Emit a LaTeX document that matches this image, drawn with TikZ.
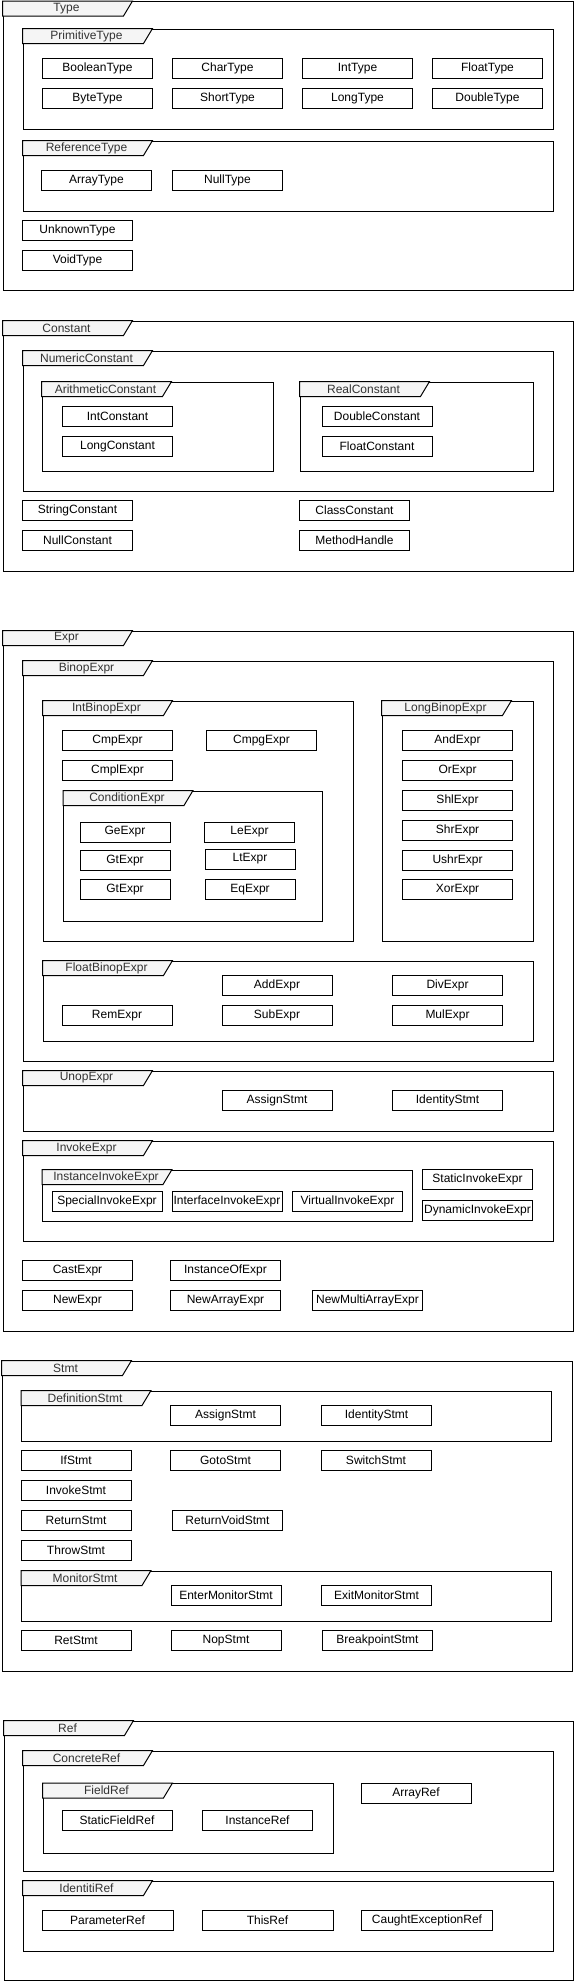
\documentclass[tikz,border=0pt]{standalone}
\usepackage{fontspec}
\setmainfont{Liberation Sans}
\usepackage{tikz}
\usetikzlibrary{positioning}
\definecolor{tabgray}{HTML}{F5F5F5}
\definecolor{tabink}{HTML}{333333}
% frame with a label tab: name, left, top, width, height, label
\newcommand{\umlframe}[6]{%
  \node[framebox,minimum width=#4pt,minimum height=#5pt,anchor=north west] (#1) at (#2,#3) {};
  \draw[tabshape] (#1.north west) -- ++(130pt,0) -- ++(-9pt,-15pt) -- ++(-121pt,0) -- cycle;
  \node[tabtext] (#1-tab) at ([shift={(64pt,-7.5pt)}]#1.north west) {#6};
}

\begin{document}
\begin{tikzpicture}[x=1pt,y=-1pt,font=\fontsize{12}{14}\selectfont,
    cls/.style={draw,line width=1pt,minimum width=110pt,minimum height=20pt,inner sep=0pt},
    framebox/.style={draw,line width=1pt,inner sep=0pt},
    tabshape/.style={draw,line width=1pt,fill=tabgray},
    tabtext/.style={text=tabink,inner sep=0pt}]
    \useasboundingbox (0,0) rectangle (574,1981);

    % Type
    \umlframe{type}{2.5}{1}{570}{289}{Type}
    \umlframe{prim}{22.5}{28.5}{530}{100}{PrimitiveType}
    \node[cls] (boolT) at (97.5,68.5) {BooleanType};
    \node[cls] (charT) at (227.5,68.5) {CharType};
    \node[cls] (intT) at (357.5,68.5) {IntType};
    \node[cls] (floatT) at (487.5,68.5) {FloatType};
    \node[cls] (byteT) at (97.5,98.5) {ByteType};
    \node[cls] (shortT) at (227.5,98.5) {ShortType};
    \node[cls] (longT) at (357.5,98.5) {LongType};
    \node[cls] (doubleT) at (487.5,98.5) {DoubleType};
    \umlframe{reft}{22.5}{140.5}{530}{70}{ReferenceType}
    \node[cls] (arrayT) at (96.5,180.5) {ArrayType};
    \node[cls] (nullT) at (227.5,180.5) {NullType};
    \node[cls] (unknownT) at (77.5,230.5) {UnknownType};
    \node[cls] (voidT) at (77.5,260.5) {VoidType};

    % Constant
    \umlframe{const}{2.5}{320.5}{570}{250}{Constant}
    \umlframe{numc}{22.5}{350.5}{530}{140}{NumericConstant}
    \umlframe{arithc}{41.5}{381.5}{231}{89}{ArithmeticConstant}
    \umlframe{realc}{299.5}{381.5}{233}{89}{RealConstant}
    \node[cls] (intC) at (117.5,416.5) {IntConstant};
    \node[cls] (longC) at (117.5,446.5) {LongConstant};
    \node[cls] (doubleC) at (377,416.5) {DoubleConstant};
    \node[cls] (floatC) at (377,446.5) {FloatConstant};
    \node[cls] (stringC) at (77.5,510.5) {StringConstant};
    \node[cls] (nullC) at (77.5,540.5) {NullConstant};
    \node[cls] (classC) at (354.5,510.5) {ClassConstant};
    \node[cls] (mhandle) at (354.5,540.5) {MethodHandle};

    % Expr
    \umlframe{expr}{2.5}{630.5}{570}{700}{Expr}
    \umlframe{binop}{22.5}{660.5}{530}{400}{BinopExpr}
    \umlframe{intbin}{42.5}{700.5}{310}{240}{IntBinopExpr}
    \node[cls] (cmpE) at (117.5,740.5) {CmpExpr};
    \node[cls] (cmpgE) at (261.5,740.5) {CmpgExpr};
    \node[cls] (cmplE) at (117.5,770.5) {CmplExpr};
    \umlframe{cond}{63}{790.5}{259}{130}{ConditionExpr}
    \node[cls,minimum width=90pt] (geE) at (125,832) {GeExpr};
    \node[cls,minimum width=90pt] (leE) at (249.5,832) {LeExpr};
    \node[cls,minimum width=90pt] (gtE) at (125,860.5) {GtExpr};
    \node[cls,minimum width=90pt] (ltE) at (250,859) {LtExpr};
    \node[cls,minimum width=90pt] (gtE2) at (125,889.5) {GtExpr};
    \node[cls,minimum width=90pt] (eqE) at (250,889.5) {EqExpr};
    \umlframe{longbin}{381.5}{700.5}{151.5}{240}{LongBinopExpr}
    \node[cls] (andE) at (457.5,740.5) {AndExpr};
    \node[cls] (orE) at (457.5,770.5) {OrExpr};
    \node[cls] (shlE) at (457.5,800.5) {ShlExpr};
    \node[cls] (shrE) at (457.5,830.5) {ShrExpr};
    \node[cls] (ushrE) at (457.5,860.5) {UshrExpr};
    \node[cls] (xorE) at (457.5,889.5) {XorExpr};
    \umlframe{floatbin}{42.5}{960.5}{490}{80}{FloatBinopExpr}
    \node[cls] (addE) at (277,985.5) {AddExpr};
    \node[cls] (divE) at (447.5,985.5) {DivExpr};
    \node[cls] (remE) at (117,1015.5) {RemExpr};
    \node[cls] (subE) at (277,1015.5) {SubExpr};
    \node[cls] (mulE) at (447.5,1015.5) {MulExpr};
    \umlframe{unop}{22.5}{1070.5}{530}{60}{UnopExpr}
    \node[cls] (unAssign) at (277,1100.5) {AssignStmt};
    \node[cls] (unIdent) at (447.5,1100.5) {IdentityStmt};
    \umlframe{invoke}{22.5}{1140.5}{530}{100}{InvokeExpr}
    \umlframe{instinv}{42}{1169.5}{370}{51}{InstanceInvokeExpr}
    \node[cls] (specialE) at (107,1201.5) {SpecialInvokeExpr};
    \node[cls] (ifaceE) at (227,1201.5) {InterfaceInvokeExpr};
    \node[cls] (virtE) at (347.5,1201.5) {VirtualInvokeExpr};
    \node[cls] (staticE) at (477.5,1179.5) {StaticInvokeExpr};
    \node[cls] (dynE) at (477.5,1210.5) {DynamicInvokeExpr};
    \node[cls] (castE) at (77.5,1270.5) {CastExpr};
    \node[cls] (instofE) at (225.5,1270.5) {InstanceOfExpr};
    \node[cls] (newE) at (77.5,1300.5) {NewExpr};
    \node[cls] (newarrE) at (225.5,1300.5) {NewArrayExpr};
    \node[cls] (newmultiE) at (367.5,1300.5) {NewMultiArrayExpr};

    % Stmt
    \umlframe{stmt}{1.5}{1360.5}{570}{310}{Stmt}
    \umlframe{defst}{21}{1390.5}{530}{50}{DefinitionStmt}
    \node[cls] (assignS) at (225.5,1415.5) {AssignStmt};
    \node[cls] (identS) at (376.5,1415.5) {IdentityStmt};
    \node[cls] (ifS) at (76,1460.5) {IfStmt};
    \node[cls] (gotoS) at (225.5,1460.5) {GotoStmt};
    \node[cls] (switchS) at (376,1460.5) {SwitchStmt};
    \node[cls] (invokeS) at (76,1490.5) {InvokeStmt};
    \node[cls] (returnS) at (76,1520.5) {ReturnStmt};
    \node[cls] (retvoidS) at (227.5,1520.5) {ReturnVoidStmt};
    \node[cls] (throwS) at (76,1550.5) {ThrowStmt};
    \umlframe{monst}{21}{1570.5}{530}{50}{MonitorStmt}
    \node[cls] (entermonS) at (226,1595.5) {EnterMonitorStmt};
    \node[cls] (exitmonS) at (376.5,1595.5) {ExitMonitorStmt};
    \node[cls] (retS) at (76,1640.5) {RetStmt};
    \node[cls] (nopS) at (226,1640.5) {NopStmt};
    \node[cls] (breakS) at (377.5,1640.5) {BreakpointStmt};

    % Ref
    \umlframe{ref}{3.5}{1720.5}{569.5}{259.5}{Ref}
    \umlframe{concref}{22.5}{1750.5}{530}{120}{ConcreteRef}
    \umlframe{fieldref}{42.5}{1783}{290.5}{70}{FieldRef}
    \node[cls] (staticfR) at (117,1820.5) {StaticFieldRef};
    \node[cls] (instR) at (257.5,1820.5) {InstanceRef};
    \node[cls] (arrayR) at (416,1793) {ArrayRef};
    \umlframe{identref}{22.5}{1880.5}{530}{70}{IdentitiRef}
    \node[cls,minimum width=131pt] (paramR) at (107.5,1920.5) {ParameterRef};
    \node[cls,minimum width=131pt] (thisR) at (267.5,1920.5) {ThisRef};
    \node[cls,minimum width=131pt] (caughtR) at (427,1920.5) {CaughtExceptionRef};
\end{tikzpicture}
\end{document}
